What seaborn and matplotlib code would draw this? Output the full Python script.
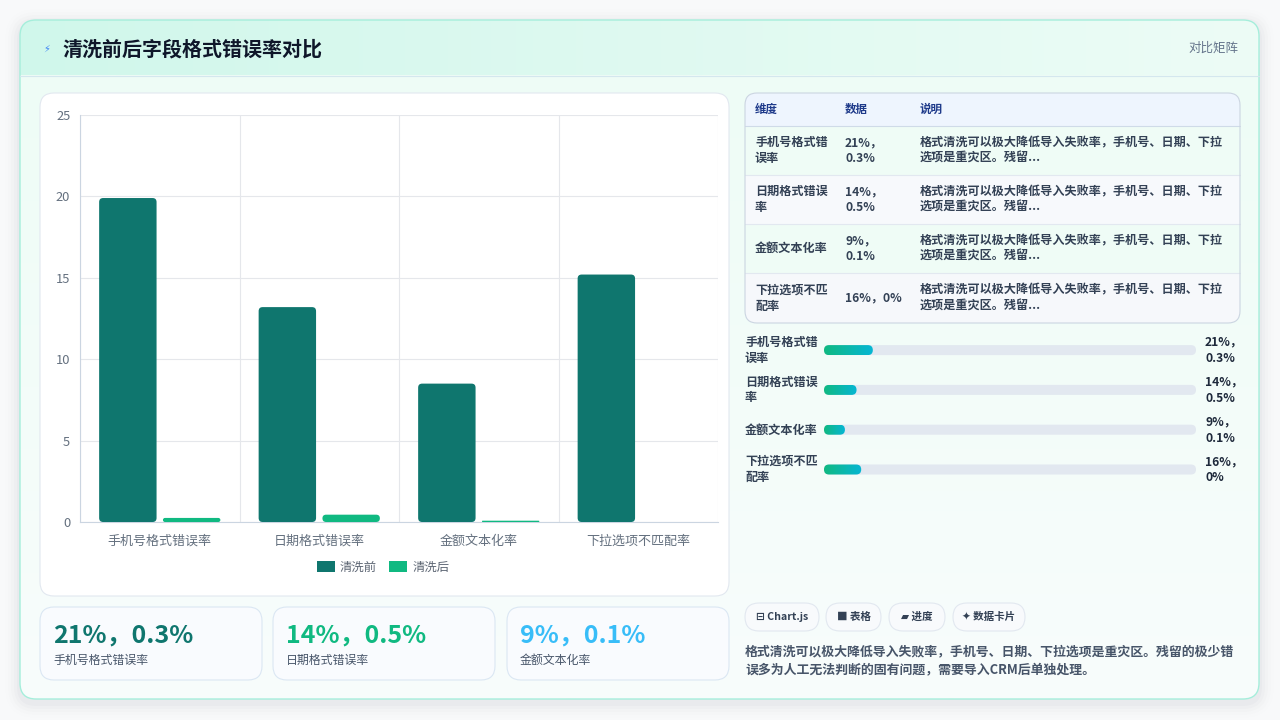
import numpy as np
import pandas as pd
import matplotlib
matplotlib.use('Agg')
import matplotlib.pyplot as plt
import seaborn as sns
from matplotlib.patches import FancyBboxPatch, Patch
from matplotlib.colors import to_rgb

# ---- data ----
categories = ['手机号格式错误率', '日期格式错误率', '金额文本化率', '下拉选项不匹配率']
series_names = ['清洗前', '清洗后']
before_vals = [19.9, 13.2, 8.5, 15.2]
after_vals = [0.25, 0.45, 0.08, 0.0]
y_ticks = [0, 5, 10, 15, 20, 25]

data_labels = ['21%，0.3%', '14%，0.5%', '9%，0.1%', '16%，0%']
table_header = ['维度', '数据', '说明']
table_dims = ['手机号格式错\n误率', '日期格式错误\n率', '金额文本化率', '下拉选项不匹\n配率']
table_data = ['21%，\n0.3%', '14%，\n0.5%', '9%，\n0.1%', '16%，0%']
table_note = '格式清洗可以极大降低导入失败率，手机号、日期、下拉\n选项是重灾区。残留...'

progress_vals = [21, 14, 9, 16]
progress_text = ['21%，\n0.3%', '14%，\n0.5%', '9%，\n0.1%', '16%，\n0%']
PROG_MAX = 160

kpi_values = data_labels[:3]
kpi_labels = categories[:3]
chips = ['⊟ Chart.js', '■ 表格', '▰ 进度', '✦ 数据卡片']
summary = ('格式清洗可以极大降低导入失败率，手机号、日期、下拉选项是重灾区。残留的极少错\n'
           '误多为人工无法判断的固有问题，需要导入CRM后单独处理。')

C_BEFORE = '#0f766e'
C_AFTER = '#10b981'
KPI_COLORS = ['#0f766e', '#10b981', '#38bdf8']
GRID = '#e5e7eb'
TICK = '#64707f'

sns.set_theme(style='white')
plt.rcParams['font.family'] = ['Noto Sans CJK SC', 'DejaVu Sans']
plt.rcParams['axes.unicode_minus'] = False

fig = plt.figure(figsize=(12.8, 7.2), dpi=100)
fig.patch.set_facecolor('#f8f9fa')

bg = fig.add_axes([0, 0, 1, 1])
bg.set_xlim(0, 1280)
bg.set_ylim(720, 0)
bg.axis('off')


def rbox(x, y, w, h, r, fc, ec='none', lw=0.8, z=1, alpha=1.0):
    p = FancyBboxPatch((x, y), w, h, boxstyle=f'round,pad=0,rounding_size={r}',
                       fc=fc, ec=ec, lw=lw, zorder=z, alpha=alpha)
    bg.add_patch(p)
    return p


def grad(ax, x0, y0, x1, y1, c0, c1, clip, horizontal=False, z=1):
    t = np.linspace(0, 1, 256)
    a, b = np.array(to_rgb(c0)), np.array(to_rgb(c1))
    cols = a[None, :] * (1 - t[:, None]) + b[None, :] * t[:, None]
    img = cols[None, :, :] if horizontal else cols[:, None, :]
    im = ax.imshow(img, extent=(x0, x1, y1, y0), origin='upper', aspect='auto',
                   zorder=z, interpolation='bilinear')
    im.set_clip_path(clip)
    return im


def round_bars(ax, patches, r_px):
    p0 = ax.transData.transform((0, 0))
    sx = abs(ax.transData.transform((1, 0))[0] - p0[0])
    sy = abs(ax.transData.transform((0, 1))[1] - p0[1])
    out = []
    for p in list(patches):
        x, y, w, h = p.get_x(), p.get_y(), p.get_width(), p.get_height()
        fc = p.get_facecolor()
        p.remove()
        if h <= 0 or w <= 0:
            continue
        r = min(r_px, w * sx / 2, h * sy / 2) / sx
        fb = FancyBboxPatch((x, y), w, h, boxstyle=f'round,pad=0,rounding_size={r}',
                            mutation_aspect=sx / sy, fc=fc, ec='none', zorder=3)
        ax.add_patch(fb)
        out.append(fb)
    return out


# ---- page card ----
for i, a in enumerate([0.018, 0.014, 0.010, 0.007, 0.004]):
    s = 3 + i * 3
    rbox(20 - s, 24 - s, 1239 + 2 * s, 679 + 2 * s, 16 + s, fc='#1e293b', z=0.5, alpha=a)
card = rbox(20, 20, 1239, 679, 16, fc='#f5fdfa', z=1)
grad(bg, 20, 20, 1259, 75, '#d0f7eb', '#edfcf6', card, horizontal=True, z=1.2)
grad(bg, 20, 75, 1259, 699, '#eefcf6', '#f8fdfc', card, z=1.2)
rbox(20, 20, 1239, 679, 16, fc='none', ec='#a5eedb', lw=1.0, z=1.5)
bg.plot([20, 1259], [75.5, 75.5], color='#d4e7ee', lw=0.8, zorder=1.6)

bg.text(47, 49, '⚡', color='#3b82f6', fontsize=7, ha='center', va='center',
        family=['DejaVu Sans'], zorder=6)
bg.text(62, 49, '清洗前后字段格式错误率对比', color='#0f172a', fontsize=14.4,
        fontweight='bold', ha='left', va='center', zorder=6)
bg.text(1238, 48, '对比矩阵', color='#64748b', fontsize=9, ha='right', va='center', zorder=6)

# ---- chart panel ----
rbox(40, 93, 689, 503, 14, fc='white', ec='#e2e8f0', lw=0.8, z=2)

ax = fig.add_axes([80 / 1280, (720 - 522) / 720, 638 / 1280, 407 / 720])
ax.set_zorder(10)
ax.patch.set_alpha(0)
df = pd.DataFrame({
    '类别': categories * 2,
    '阶段': [series_names[0]] * len(categories) + [series_names[1]] * len(categories),
    '错误率': before_vals + after_vals,
})
sns.barplot(data=df, x='类别', y='错误率', hue='阶段', palette=[C_BEFORE, C_AFTER],
            width=0.8, gap=0.1, saturation=1, errorbar=None, ax=ax)
if ax.get_legend() is not None:
    ax.get_legend().remove()
ax.set_xlim(-0.5, len(categories) - 0.5)
ax.set_ylim(0, 25)
ax.set_yticks(y_ticks)
ax.set_xticks(range(len(categories)))
ax.set_xticklabels(categories)
ax.set_xticks(np.arange(-0.5, len(categories), 1.0), minor=True)
ax.set_xlabel('')
ax.set_ylabel('')
ax.grid(True, axis='y', color=GRID, lw=0.8)
ax.grid(True, axis='x', which='minor', color=GRID, lw=0.8)
ax.grid(False, axis='x', which='major')
ax.set_axisbelow(True)
for sp in ['top', 'right']:
    ax.spines[sp].set_visible(False)
ax.spines['left'].set_color('#cbd5e1')
ax.spines['bottom'].set_color('#cbd5e1')
ax.spines['left'].set_linewidth(0.8)
ax.spines['bottom'].set_linewidth(0.8)
ax.tick_params(axis='y', length=5, width=0.8, color=GRID, labelcolor=TICK, labelsize=9.3, pad=2)
ax.tick_params(axis='x', which='major', length=0, labelcolor=TICK, labelsize=9.4, pad=9)
ax.tick_params(axis='x', which='minor', length=6, width=0.8, color=GRID)
round_bars(ax, ax.patches, 4)

handles = [Patch(fc=C_BEFORE, ec='none'), Patch(fc=C_AFTER, ec='none')]
fig.legend(handles, series_names, loc='center', bbox_to_anchor=(383 / 1280, 1 - 567 / 720),
           ncol=2, frameon=False, fontsize=8.9, handlelength=1.45, handleheight=1.0,
           columnspacing=1.0, handletextpad=0.4, labelcolor='#5b6472')

# ---- KPI cards ----
for i, (val, lab, col) in enumerate(zip(kpi_values, kpi_labels, KPI_COLORS)):
    x0 = [40, 273, 507][i]
    rbox(x0, 607, 222, 73, 14, fc='#f9fbfe', ec='#dbe7f3', lw=0.8, z=2)
    bg.text(x0 + 13, 635, val, color=col, fontsize=18, fontweight='bold',
            ha='left', va='center', zorder=6)
    bg.text(x0 + 13, 660, lab, color='#475569', fontsize=8.6, ha='left', va='center', zorder=6)

# ---- table ----
tb = rbox(745, 93, 495, 230, 12, fc='#f8fafc', z=2)
row_edges = [93, 126, 175, 224, 273, 323]
row_fill = ['#eef5fe', '#effcf6', '#f7f9fc', '#effcf6', '#f6f8fb']
for k in range(5):
    r = bg.fill_between([745, 1240], row_edges[k], row_edges[k + 1], color=row_fill[k],
                        lw=0, zorder=2.1)
    r.set_clip_path(tb)
for k, yy in enumerate(row_edges[1:-1]):
    bg.plot([745, 1240], [yy, yy], color='#cfdbe8' if k == 0 else '#e2e8f0', lw=0.8, zorder=2.2)
rbox(745, 93, 495, 230, 12, fc='none', ec='#cbd5e1', lw=0.8, z=2.3)
col_x = [755, 845, 920]
for cx, h in zip(col_x, table_header):
    bg.text(cx, 109.5, h, color='#1e3a8a', fontsize=8.3, fontweight='bold',
            ha='left', va='center', zorder=6)
for k in range(len(categories)):
    yc = (row_edges[k + 1] + row_edges[k + 2]) / 2
    bg.text(col_x[0], yc, table_dims[k], color='#334155', fontsize=8.7, fontweight='bold',
            ha='left', va='center', linespacing=1.3, zorder=6)
    bg.text(col_x[1], yc, table_data[k], color='#334155', fontsize=8.7, fontweight='bold',
            ha='left', va='center', linespacing=1.3, zorder=6)
    bg.text(col_x[2], yc, table_note, color='#334155', fontsize=8.7, fontweight='bold',
            ha='left', va='center', linespacing=1.3, zorder=6)

# ---- progress bars ----
row_y = [350, 390, 430, 469.5]
step = 39.8
pax = fig.add_axes([824 / 1280, 1 - (row_y[-1] + step / 2) / 720, 372 / 1280,
                    (step * len(categories)) / 720])
pax.set_xlim(0, PROG_MAX)
pax.set_ylim(len(categories) - 0.5, -0.5)
pax.axis('off')
psx = 372 / PROG_MAX
psy = step
bh = 10 / psy
for i, v in enumerate(progress_vals):
    track = FancyBboxPatch((0, i - bh / 2), PROG_MAX, bh,
                           boxstyle=f'round,pad=0,rounding_size={5 / psx}',
                           mutation_aspect=psx / psy, fc='#e2e8f0', ec='none', zorder=1)
    pax.add_patch(track)
    fill = FancyBboxPatch((0, i - bh / 2), v, bh,
                          boxstyle=f'round,pad=0,rounding_size={5 / psx}',
                          mutation_aspect=psx / psy, fc='none', ec='none', zorder=2)
    pax.add_patch(fill)
    grad(pax, 0, i - bh / 2, v, i + bh / 2, '#10b981', '#06b6d4', fill, horizontal=True, z=2)
pax.set_xlim(0, PROG_MAX)
pax.set_ylim(len(categories) - 0.5, -0.5)

for i in range(len(categories)):
    bg.text(745, row_y[i], table_dims[i], color='#334155', fontsize=8.7, fontweight='bold',
            ha='left', va='center', linespacing=1.3, zorder=6)
    bg.text(1205, row_y[i], progress_text[i], color='#1e293b', fontsize=8.7, fontweight='bold',
            ha='left', va='center', linespacing=1.3, zorder=6)

# ---- chips + summary ----
chip_x = [745, 826, 889, 953]
chip_w = [74, 55, 56, 72]
for cx, cw, ct in zip(chip_x, chip_w, chips):
    rbox(cx, 603, cw, 28, 14, fc='#f8fafc', ec='#e2e8f0', lw=0.8, z=2)
    bg.text(cx + cw / 2, 617, ct, color='#334155', fontsize=7.6, fontweight='bold',
            ha='center', va='center', zorder=6)
bg.text(745, 661, summary, color='#475569', fontsize=9.3, fontweight='bold',
        ha='left', va='center', linespacing=1.45, zorder=6)

bg.set_xlim(0, 1280)
bg.set_ylim(720, 0)
bg.set_aspect('auto')

fig.savefig('out.png', dpi=100, facecolor=fig.get_facecolor())
